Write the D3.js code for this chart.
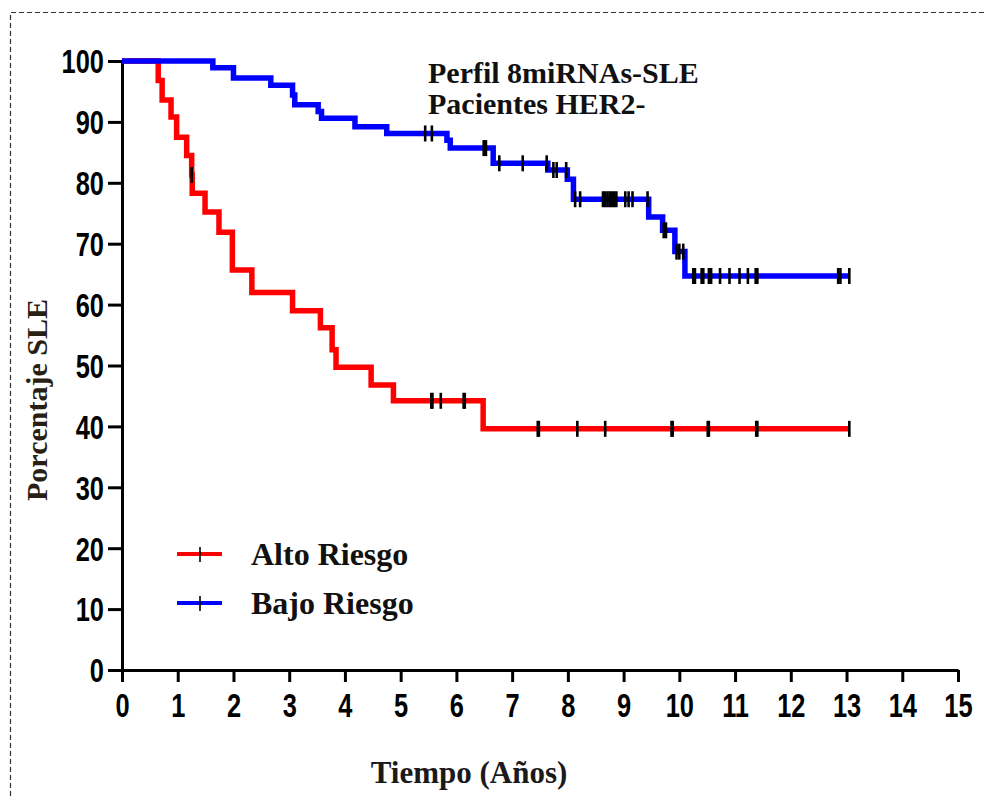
<!DOCTYPE html>
<html>
<head>
<meta charset="utf-8">
<script src="https://cdn.jsdelivr.net/npm/d3@7"></script>
<style>
  html, body { margin: 0; padding: 0; background: #fff; }
  svg { display: block; }
  .tick text { font-family: "Liberation Sans Narrow", "Arial Narrow", "Liberation Sans", Arial, sans-serif; font-weight: bold; font-size: 33px; fill: #000; }
  .serif { font-family: "Liberation Serif", "Times New Roman", serif; font-weight: bold; }
</style>
</head>
<body>
<svg id="chart" width="985" height="796"></svg>
<script>
// Kaplan–Meier curves: survival (%) after each event time (years)
const xTicks = [0,1,2,3,4,5,6,7,8,9,10,11,12,13,14,15];
const yTicks = [0,10,20,30,40,50,60,70,80,90,100];

const seriesNames = ["Alto Riesgo", "Bajo Riesgo"];

const altoTimes = [0, 0.65, 0.72, 0.88, 0.98, 1.16, 1.25, 1.26, 1.49, 1.74, 1.98, 2.33, 3.06, 3.56, 3.77, 3.84, 4.47, 4.87, 6.48];
const altoSurv  = [100, 96.8, 93.6, 90.8, 87.5, 84.5, 81.3, 78.3, 75.2, 71.9, 65.7, 62.0, 59.0, 56.2, 52.6, 49.7, 46.8, 44.2, 39.6];
const altoEnd = 13.05;
const altoCensored = [1.25, 5.55, 5.57, 5.72, 6.13, 6.15, 7.46, 7.48, 8.17, 8.67, 9.86, 9.88, 10.51, 10.53, 11.38, 11.40, 13.05];

const bajoTimes = [0, 1.63, 2.0, 2.67, 3.06, 3.1, 3.52, 3.58, 4.18, 4.75, 5.83, 5.89, 6.66, 7.64, 7.99, 8.1, 9.45, 9.70, 9.92, 10.1];
const bajoSurv  = [100, 98.9, 97.2, 96.0, 94.4, 92.8, 91.7, 90.6, 89.2, 88.1, 87.0, 85.7, 83.2, 82.1, 80.6, 77.3, 74.4, 72.2, 68.7, 64.7];
const bajoEnd = 13.05;
const bajoCensored = [5.44, 5.56, 6.49, 6.53, 6.77, 7.19, 7.62, 7.74, 7.80, 7.97, 8.13, 8.22,
  8.63, 8.67, 8.71, 8.75, 8.79, 8.83, 8.87, 9.03, 9.09, 9.16, 9.43, 9.72, 9.76,
  9.95, 10.0, 10.07, 10.25, 10.28, 10.40, 10.43, 10.53, 10.57, 10.73, 10.90, 11.08,
  11.23, 11.37, 11.40, 12.85, 12.89, 13.05];

const colors = ["#ff0000", "#0000ff"];

const svg = d3.select("#chart");

// dashed frame
svg.append("path")
  .attr("d", "M10.5,796 L10.5,12.5 L985,12.5")
  .attr("fill", "none").attr("stroke", "#333").attr("stroke-width", 1.2)
  .attr("stroke-dasharray", "5,3");

const x = d3.scaleLinear().domain([0, 15]).range([122, 958]);
const y = d3.scaleLinear().domain([0, 100]).range([670, 61]);

// axes
const gy = svg.append("g").attr("transform", `translate(${x(0)},0)`)
  .call(d3.axisLeft(y).tickValues(yTicks).tickSize(14).tickSizeOuter(0).tickPadding(4));
const gx = svg.append("g").attr("transform", `translate(0,${y(0)})`)
  .call(d3.axisBottom(x).tickValues(xTicks).tickSize(12).tickSizeOuter(0).tickPadding(12));
[gx, gy].forEach(g => {
  g.select(".domain").attr("stroke", "#000").attr("stroke-width", 3);
  g.selectAll(".tick line").attr("stroke", "#000").attr("stroke-width", 3);
  // condensed digits
  g.selectAll(".tick text").each(function () {
    const w = this.getComputedTextLength();
    d3.select(this).attr("textLength", w * 0.77).attr("lengthAdjust", "spacingAndGlyphs");
  });
});
gy.selectAll(".tick text").attr("dy", "0.36em");

function stepPoints(times, surv, end) {
  const pts = times.map((t, i) => [t, surv[i]]);
  pts.push([end, surv[surv.length - 1]]);
  return pts;
}
function survAt(times, surv, t) {
  let v = surv[0];
  for (let i = 0; i < times.length; i++) if (times[i] <= t) v = surv[i];
  return v;
}

const line = d3.line().x(d => x(d[0])).y(d => y(d[1])).curve(d3.curveStepAfter);

const series = [
  { times: altoTimes, surv: altoSurv, end: altoEnd, cens: altoCensored, color: colors[0] },
  { times: bajoTimes, surv: bajoSurv, end: bajoEnd, cens: bajoCensored, color: colors[1] }
];

series.forEach(s => {
  svg.append("path")
    .attr("d", line(stepPoints(s.times, s.surv, s.end)))
    .attr("fill", "none").attr("stroke", s.color).attr("stroke-width", 5.5)
    .attr("stroke-linejoin", "miter").attr("stroke-linecap", "butt");
});
series.forEach(s => {
  svg.append("g").selectAll("line").data(s.cens).join("line")
    .attr("x1", d => x(d)).attr("x2", d => x(d))
    .attr("y1", d => y(survAt(s.times, s.surv, d)) - 8)
    .attr("y2", d => y(survAt(s.times, s.surv, d)) + 8)
    .attr("stroke", "#000").attr("stroke-width", 2.6);
});

// title
const title = svg.append("text").attr("class", "serif")
  .attr("font-size", 30).attr("fill", "#111");
title.append("tspan").attr("x", 428).attr("y", 83).text("Perfil 8miRNAs-SLE");
title.append("tspan").attr("x", 428).attr("y", 114).text("Pacientes HER2-");

// axis titles
svg.append("text").attr("class", "serif").attr("font-size", 31).attr("fill", "#1a1a1a")
  .attr("text-anchor", "middle").attr("x", 469).attr("y", 783).text("Tiempo (Años)");
svg.append("text").attr("class", "serif").attr("font-size", 30).attr("fill", "#2a1f14")
  .attr("text-anchor", "middle")
  .attr("transform", "translate(47,400) rotate(-90)").text("Porcentaje SLE");

// legend
const legend = svg.append("g");
seriesNames.forEach((name, i) => {
  const ly = 554 + i * 49;
  legend.append("line").attr("x1", 177).attr("x2", 222).attr("y1", ly).attr("y2", ly)
    .attr("stroke", colors[i]).attr("stroke-width", 4);
  legend.append("line").attr("x1", 200).attr("x2", 200).attr("y1", ly - 7).attr("y2", ly + 8)
    .attr("stroke", "#000").attr("stroke-width", 1.6);
  legend.append("text").attr("class", "serif").attr("font-size", 32).attr("fill", "#111")
    .attr("x", 251).attr("y", ly + 11).text(name);
});
</script>
</body>
</html>
